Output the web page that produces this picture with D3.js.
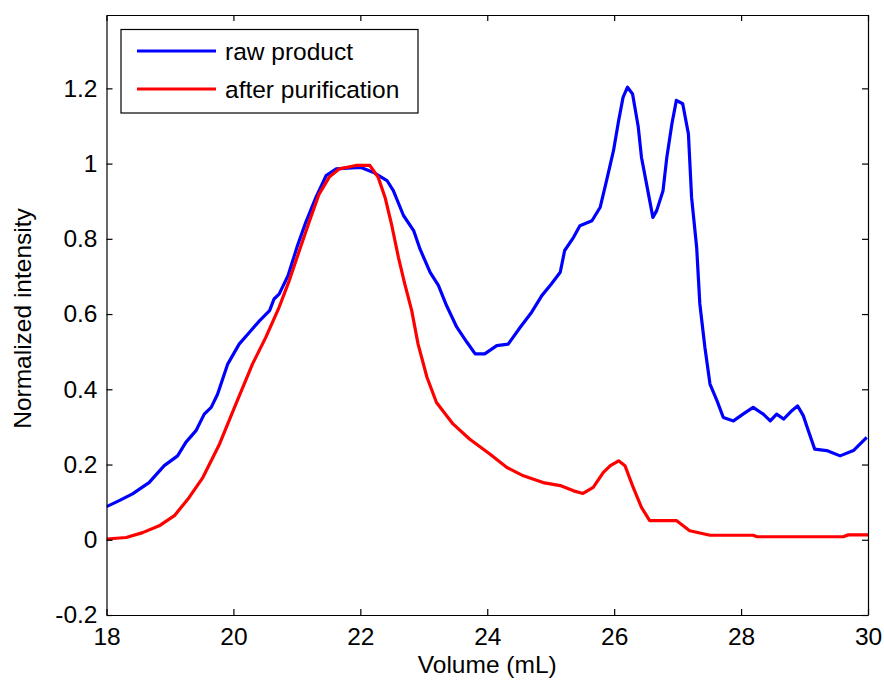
<!DOCTYPE html>
<html>
<head>
<meta charset="utf-8">
<script src="https://cdn.jsdelivr.net/npm/d3@7"></script>
<style>
  body { margin: 0; background: #fff; }
  svg { display: block; }
  text { font-family: "Liberation Sans", Arial, sans-serif; fill: #000; }
</style>
</head>
<body>
<svg id="chart" width="884" height="684"></svg>
<script>
// ---- data ----
const rawVolume = [18.00,18.20,18.41,18.67,18.91,19.12,19.25,19.41,19.54,19.65,19.75,19.91,20.09,20.25,20.41,20.57,20.64,20.72,20.86,21.01,21.14,21.30,21.46,21.62,21.80,22.00,22.20,22.42,22.52,22.68,22.84,22.94,23.10,23.23,23.36,23.52,23.68,23.81,23.96,24.15,24.33,24.52,24.70,24.86,25.01,25.15,25.22,25.36,25.46,25.65,25.78,25.88,25.99,26.07,26.14,26.21,26.29,26.38,26.43,26.51,26.61,26.67,26.77,26.83,26.91,26.98,27.08,27.17,27.22,27.30,27.35,27.43,27.51,27.62,27.72,27.88,28.03,28.19,28.35,28.46,28.56,28.67,28.80,28.89,28.98,29.06,29.16,29.35,29.56,29.77,29.98];
const rawIntensity = [0.088,0.104,0.122,0.152,0.197,0.223,0.259,0.290,0.334,0.352,0.387,0.467,0.520,0.551,0.582,0.609,0.640,0.653,0.702,0.782,0.844,0.910,0.968,0.986,0.988,0.990,0.977,0.955,0.928,0.862,0.822,0.773,0.711,0.676,0.622,0.565,0.525,0.494,0.494,0.516,0.520,0.565,0.605,0.649,0.680,0.711,0.769,0.804,0.835,0.848,0.884,0.955,1.035,1.114,1.176,1.203,1.185,1.097,1.017,0.946,0.857,0.875,0.928,1.017,1.106,1.168,1.159,1.079,0.910,0.777,0.627,0.511,0.414,0.370,0.325,0.316,0.334,0.352,0.334,0.316,0.334,0.321,0.343,0.356,0.330,0.290,0.241,0.237,0.223,0.237,0.272];

const purVolume = [18.00,18.31,18.57,18.83,19.07,19.30,19.52,19.78,20.04,20.30,20.51,20.72,20.88,21.04,21.20,21.35,21.51,21.67,21.93,22.15,22.28,22.39,22.49,22.60,22.70,22.81,22.91,23.05,23.20,23.46,23.72,24.04,24.31,24.57,24.88,25.15,25.36,25.51,25.67,25.83,25.94,26.07,26.17,26.30,26.43,26.56,26.98,27.19,27.51,28.19,28.25,29.61,29.69,30.00];
const purIntensity = [0.002,0.006,0.019,0.037,0.064,0.112,0.166,0.254,0.361,0.467,0.538,0.618,0.689,0.769,0.848,0.919,0.964,0.986,0.995,0.995,0.964,0.910,0.840,0.751,0.680,0.609,0.520,0.432,0.365,0.308,0.268,0.228,0.192,0.170,0.152,0.144,0.130,0.123,0.139,0.179,0.197,0.210,0.197,0.139,0.086,0.051,0.051,0.024,0.012,0.012,0.008,0.008,0.013,0.013];

const xTicks = [18,20,22,24,26,28,30];
const yTicks = [-0.2,0,0.2,0.4,0.6,0.8,1,1.2];
const seriesNames = ["raw product","after purification"];
const seriesColors = ["#0000ff","#ff0000"];
const xLabel = "Volume (mL)";
const yLabel = "Normalized intensity";

// ---- layout ----
const svg = d3.select("#chart");
const L = 106.5, R = 868, T = 15, B = 615;
const x = d3.scaleLinear().domain([18,30]).range([L,R]);
const y = d3.scaleLinear().domain([-0.2,1.395]).range([B,T]);
const FS = 24.5;

svg.append("defs").append("clipPath").attr("id","clip")
  .append("rect").attr("x",L).attr("y",T).attr("width",R-L).attr("height",B-T);

const series = [
  rawVolume.map((v,i)=>[v,rawIntensity[i]]),
  purVolume.map((v,i)=>[v,purIntensity[i]])
];
const line = d3.line().x(d=>x(d[0])).y(d=>y(d[1]));
const g = svg.append("g").attr("clip-path","url(#clip)");
series.forEach((s,i)=>{
  g.append("path").datum(s).attr("d",line)
    .attr("fill","none").attr("stroke",seriesColors[i])
    .attr("stroke-width",3.2).attr("stroke-linejoin","round");
});

// axes (MATLAB style: inward ticks, box)
const tk = 6;
const fmt = d => String(+d.toFixed(1));
const axB = svg.append("g").attr("transform",`translate(0,${B})`)
  .call(d3.axisBottom(x).tickValues(xTicks).tickSizeInner(-tk).tickSizeOuter(0).tickPadding(13).tickFormat(d => String(d)));
const axT = svg.append("g").attr("transform",`translate(0,${T})`)
  .call(d3.axisTop(x).tickValues(xTicks).tickSizeInner(-tk).tickSizeOuter(0).tickFormat(""));
const axL = svg.append("g").attr("transform",`translate(${L},0)`)
  .call(d3.axisLeft(y).tickValues(yTicks).tickSizeInner(-tk).tickSizeOuter(0).tickPadding(9).tickFormat(fmt));
const axR = svg.append("g").attr("transform",`translate(${R},0)`)
  .call(d3.axisRight(y).tickValues(yTicks).tickSizeInner(-tk).tickSizeOuter(0).tickFormat(""));
[axB,axT,axL,axR].forEach(a=>{
  a.selectAll(".domain").attr("stroke","#000").attr("stroke-width",1.2);
  a.selectAll(".tick line").attr("stroke","#000").attr("stroke-width",1.2);
  a.selectAll("text").attr("font-size",FS).attr("font-family","Liberation Sans, Arial, sans-serif").attr("fill","#000");
});

// axis labels
svg.append("text").attr("x",(L+R)/2).attr("y",673).attr("text-anchor","middle")
  .attr("font-size",FS).text(xLabel);
svg.append("text").attr("transform",`translate(31,${(202+435)/2}) rotate(-90)`)
  .attr("text-anchor","middle").attr("font-size",FS).text(yLabel);

// legend
const lg = svg.append("g");
lg.append("rect").attr("x",121).attr("y",29.5).attr("width",297).attr("height",83.5)
  .attr("fill","#fff").attr("stroke","#000").attr("stroke-width",1.2);
const rows = [51, 89];
seriesNames.forEach((n,i)=>{
  lg.append("line").attr("x1",137).attr("x2",216).attr("y1",rows[i]).attr("y2",rows[i])
    .attr("stroke",seriesColors[i]).attr("stroke-width",3.2);
  lg.append("text").attr("x",225).attr("y",rows[i]).attr("dy","0.35em")
    .attr("font-size",FS).text(n);
});
</script>
</body>
</html>
